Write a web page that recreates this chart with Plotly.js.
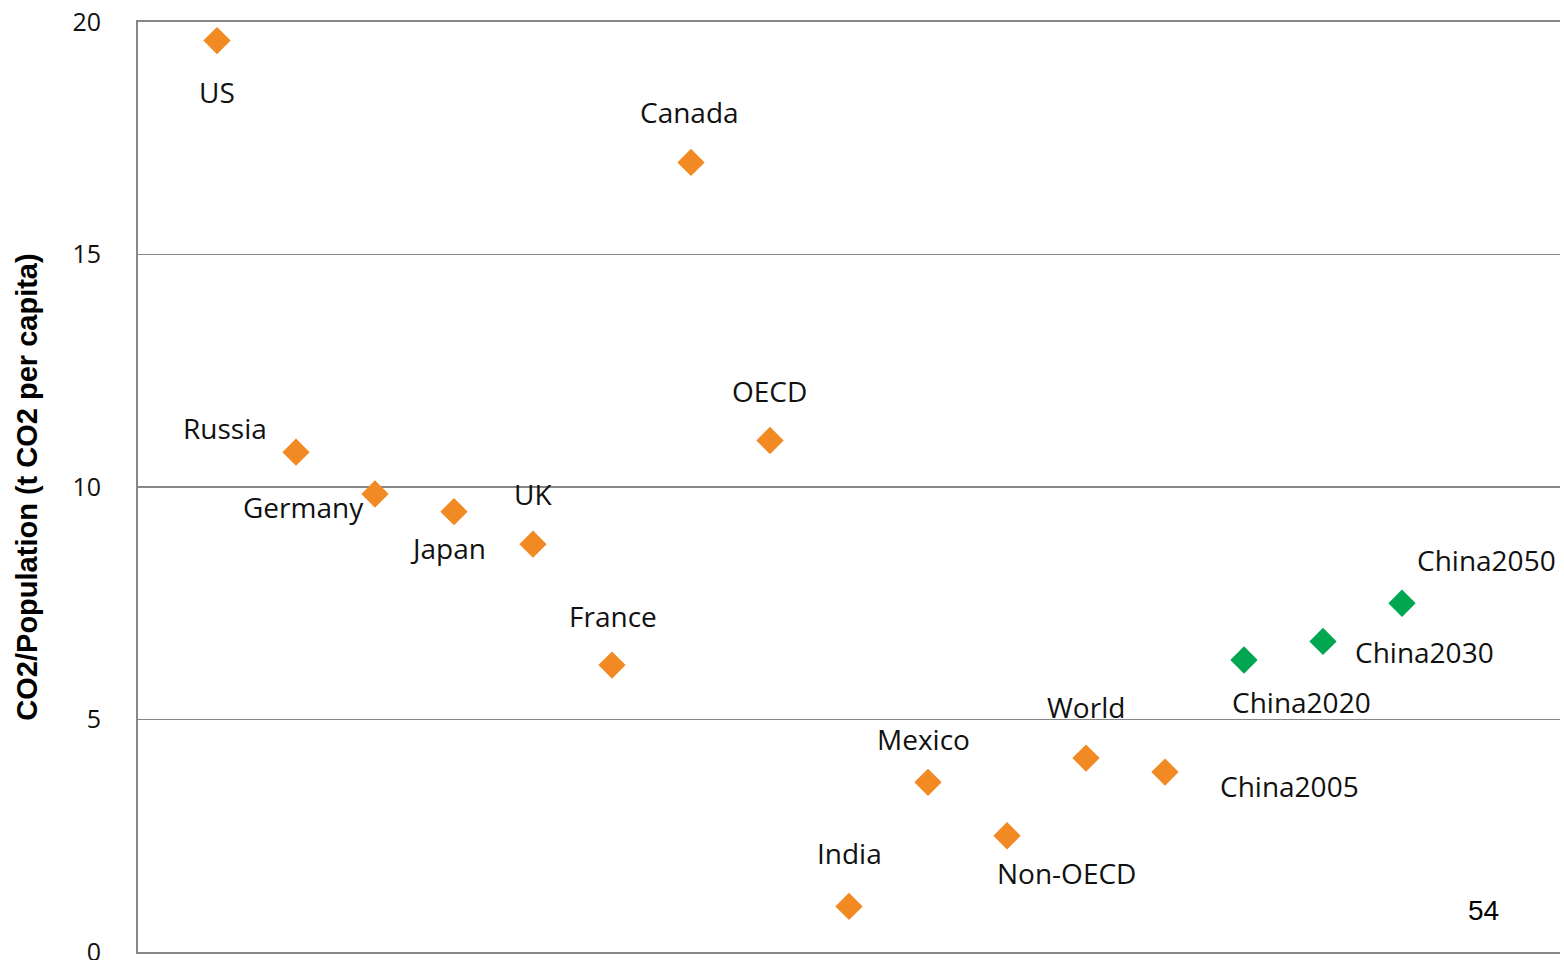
<!DOCTYPE html>
<html><head><meta charset="utf-8">
<script src="https://cdn.plot.ly/plotly-3.0.1.min.js"></script>
<style>body{margin:0;background:#fff}#chart{width:1564px;height:960px}</style>
</head><body><div id="chart"></div>
<script>
// Data
const countries = ["US","Russia","Germany","Japan","UK","France","Canada","OECD","India","Mexico","Non-OECD","World","China2005"];
const countryValues = [19.6, 10.75, 9.85, 9.47, 8.77, 6.17, 16.98, 11.0, 0.98, 3.65, 2.5, 4.17, 3.87];
const projections = ["China2020","China2030","China2050"];
const projectionValues = [6.28, 6.68, 7.5];
const yTicks = [0, 5, 10, 15, 20];
const yAxisTitle = "CO2/Population (t CO2 per capita)";
const slideNumber = "54";

// positions along the category axis (1..n)
const xCountries = countries.map((_, i) => i + 1);
const xProj = projections.map((_, i) => countries.length + i + 1);

// label offsets in pixels (styling)
const labelShift = {
  "US":[0,-51], "Russia":[-71,24], "Germany":[-72,-13], "Japan":[-6,-36], "UK":[0,50],
  "France":[1,49], "Canada":[-2,50], "OECD":[-1,50], "India":[0,53], "Mexico":[-5,43],
  "Non-OECD":[59,-37], "World":[0,51], "China2005":[124,-14], "China2020":[57,-42],
  "China2030":[101,-11], "China2050":[84,43]
};

const labelFont = {family:"'Open Sans', Lato, sans-serif", size:28, color:"#111"};
const annotations = [];
function addLabels(names, xs, ys){
  names.forEach((n,i)=>{
    const s = labelShift[n] || [0,0];
    annotations.push({x:xs[i], y:ys[i], xref:"x", yref:"y", text:n, showarrow:false,
      xshift:s[0], yshift:s[1], font:labelFont, xanchor:"center", yanchor:"middle"});
  });
}
addLabels(countries, xCountries, countryValues);
addLabels(projections, xProj, projectionValues);
annotations.push({xref:"paper", yref:"paper", x:0.946, y:0.045, text:slideNumber, showarrow:false,
  font:{family:"'Liberation Sans', Arial, sans-serif", size:28, color:"#000"}, xanchor:"center", yanchor:"middle"});

const traces = [
  {type:"scatter", mode:"markers", x:xCountries, y:countryValues, name:"2005",
   marker:{symbol:"diamond", size:21, color:"#F28A24", line:{width:0}}, hoverinfo:"text", text:countries},
  {type:"scatter", mode:"markers", x:xProj, y:projectionValues, name:"Projection",
   marker:{symbol:"diamond", size:21, color:"#00A650", line:{width:0}}, hoverinfo:"text", text:projections}
];

const layout = {
  width:1564, height:960,
  margin:{l:138, r:4, t:22, b:8},
  paper_bgcolor:"#fff", plot_bgcolor:"#fff",
  showlegend:false,
  xaxis:{range:[0,18], showgrid:false, zeroline:false, showticklabels:false, ticks:"",
         showline:true, linecolor:"#868686", linewidth:2, mirror:true},
  yaxis:{range:[0,20], tickvals:yTicks, ticktext:yTicks.map(String), showgrid:true, gridcolor:"#868686", gridwidth:1.5,
         zeroline:false, showline:true, linecolor:"#868686", linewidth:2, ticks:"", ticklabelstandoff:30,
         ticklabeloverflow:"allow",
         tickfont:{family:"'Open Sans', Lato, sans-serif", size:25, color:"#111"},
         title:{text:yAxisTitle, standoff:26, font:{family:"'Liberation Sans', Arial, sans-serif", size:29, color:"#000", weight:"bold"}}},
  annotations:annotations
};
Plotly.newPlot("chart", traces, layout, {displayModeBar:false, staticPlot:true});
</script></body></html>
